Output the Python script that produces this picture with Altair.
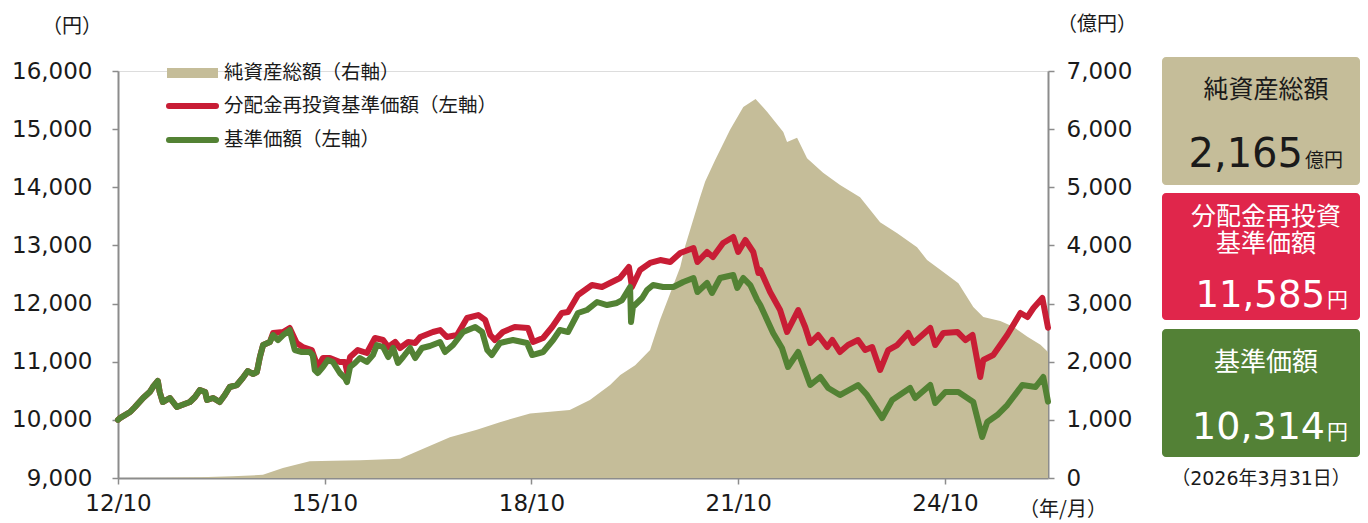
import altair as alt
import pandas as pd

# ---------------- data ----------------
# 基準価額 (円)
nav_dates = [
    "2012-10-01", "2012-10-11", "2012-12-04", "2012-12-30", "2013-02-11", "2013-03-18",
    "2013-04-04", "2013-04-30", "2013-05-10", "2013-05-26", "2013-07-03", "2013-08-09",
    "2013-09-05", "2013-10-17", "2013-11-13", "2013-12-09", "2014-01-06", "2014-01-16",
    "2014-02-17", "2014-03-24", "2014-04-20", "2014-05-16", "2014-06-23", "2014-07-24",
    "2014-08-20", "2014-09-16", "2014-10-07", "2014-10-23", "2014-11-09", "2014-12-15",
    "2015-01-01", "2015-01-27", "2015-02-23", "2015-03-30", "2015-04-15", "2015-04-26",
    "2015-06-02", "2015-07-14", "2015-07-30", "2015-08-10", "2015-08-26", "2015-09-22",
    "2015-10-18", "2015-11-14", "2015-12-21", "2016-01-17", "2016-01-28", "2016-02-13",
    "2016-03-10", "2016-04-05", "2016-05-12", "2016-06-13", "2016-07-04", "2016-08-06",
    "2016-09-02", "2016-09-28", "2016-10-24", "2016-11-20", "2016-12-27", "2017-01-23",
    "2017-02-28", "2017-04-11", "2017-06-04", "2017-06-30", "2017-08-12", "2017-10-04",
    "2017-12-07", "2018-01-13", "2018-02-09", "2018-03-05", "2018-04-17", "2018-06-25",
    "2018-09-08", "2018-10-05", "2018-12-02", "2019-01-24", "2019-03-01", "2019-04-13",
    "2019-06-05", "2019-07-22", "2019-09-14", "2019-11-06", "2019-12-28", "2020-01-25",
    "2020-03-07", "2020-03-12", "2020-03-22", "2020-05-10", "2020-06-05", "2020-07-07",
    "2020-08-29", "2020-10-22", "2020-12-14", "2021-02-06", "2021-02-27", "2021-04-19",
    "2021-05-15", "2021-06-27", "2021-09-05", "2021-09-26", "2021-10-28", "2021-12-04",
    "2022-01-10", "2022-01-26", "2022-04-04", "2022-05-21", "2022-06-22", "2022-08-15",
    "2022-10-18", "2022-12-10", "2023-01-21", "2023-03-24", "2023-06-28", "2023-08-15",
    "2023-11-03", "2023-12-26", "2024-03-30", "2024-04-26", "2024-07-15", "2024-08-10",
    "2024-10-03", "2024-12-11", "2025-02-28", "2025-04-16", "2025-05-13", "2025-07-05",
    "2025-08-27", "2025-11-15", "2026-01-24", "2026-03-06", "2026-03-31",
]
nav_values = [
    10000, 10030, 10135, 10221, 10376, 10479,
    10565, 10668, 10479, 10307, 10376, 10221,
    10255, 10307, 10393, 10513, 10479, 10341,
    10376, 10307, 10427, 10565, 10599, 10720,
    10840, 10788, 10823, 11081, 11287, 11339,
    11459, 11373, 11459, 11545, 11339, 11201,
    11167, 11167, 11115, 10857, 10806, 10909,
    11029, 10995, 10806, 10720, 10651, 10909,
    10978, 11064, 10995, 11115, 11287, 11253,
    11081, 11236, 10978, 11081, 11236, 11064,
    11236, 11270, 11339, 11167, 11287, 11511,
    11597, 11511, 11201, 11115, 11322, 11373,
    11322, 11115, 11167, 11373, 11545, 11511,
    11838, 11889, 12027, 11975, 12010, 12061,
    12285, 11683, 11941, 12096, 12233, 12319,
    12285, 12285, 12371, 12440, 12199, 12354,
    12182, 12440, 12491, 12268, 12440, 12319,
    12061, 11975, 11494, 11236, 10909, 11167,
    10599, 10737, 10548, 10427, 10599, 10427,
    10032, 10341, 10548, 10376, 10599, 10290,
    10479, 10479, 10307, 9705, 9963, 10083,
    10255, 10599, 10565, 10737, 10314,
]

# 分配金再投資基準価額 (円)
reinv_dates = [
    "2012-10-01", "2012-10-11", "2012-12-04", "2012-12-30", "2013-02-11", "2013-03-18",
    "2013-04-04", "2013-04-30", "2013-05-10", "2013-05-26", "2013-07-03", "2013-08-09",
    "2013-09-05", "2013-10-17", "2013-11-13", "2013-12-09", "2014-01-06", "2014-01-16",
    "2014-02-17", "2014-03-24", "2014-04-20", "2014-05-16", "2014-06-23", "2014-07-24",
    "2014-08-20", "2014-09-16", "2014-10-07", "2014-10-23", "2014-11-09", "2014-12-15",
    "2015-01-01", "2015-02-23", "2015-03-30", "2015-05-06", "2015-06-07", "2015-07-25",
    "2015-08-26", "2015-09-22", "2015-10-29", "2015-12-21", "2016-01-17", "2016-01-28",
    "2016-02-13", "2016-03-25", "2016-05-12", "2016-06-24", "2016-08-06", "2016-09-02",
    "2016-10-09", "2016-11-04", "2016-12-17", "2017-01-23", "2017-02-19", "2017-04-27",
    "2017-06-04", "2017-07-10", "2017-09-02", "2017-10-25", "2017-12-23", "2018-01-29",
    "2018-02-25", "2018-03-21", "2018-05-03", "2018-07-05", "2018-09-13", "2018-10-10",
    "2018-12-02", "2019-01-19", "2019-03-11", "2019-04-13", "2019-06-05", "2019-08-18",
    "2019-10-10", "2019-12-02", "2020-01-14", "2020-03-01", "2020-03-17", "2020-04-29",
    "2020-06-21", "2020-08-14", "2020-10-06", "2020-11-28", "2021-02-06", "2021-02-27",
    "2021-04-19", "2021-05-20", "2021-07-13", "2021-09-05", "2021-10-01", "2021-11-08",
    "2021-12-20", "2022-01-16", "2022-01-26", "2022-03-19", "2022-05-11", "2022-06-17",
    "2022-08-15", "2022-09-21", "2022-10-18", "2022-11-29", "2023-01-16", "2023-02-12",
    "2023-03-24", "2023-05-06", "2023-06-28", "2023-08-05", "2023-09-11", "2023-10-23",
    "2023-12-05", "2024-01-22", "2024-03-20", "2024-04-16", "2024-06-03", "2024-07-15",
    "2024-08-10", "2024-09-22", "2024-12-06", "2025-01-18", "2025-02-24", "2025-04-06",
    "2025-04-22", "2025-06-14", "2025-08-27", "2025-11-05", "2025-12-12", "2026-01-13",
    "2026-03-01", "2026-03-31",
]
reinv_values = [
    10000, 10030, 10135, 10221, 10376, 10479,
    10565, 10668, 10479, 10307, 10376, 10221,
    10255, 10307, 10393, 10513, 10479, 10341,
    10376, 10307, 10427, 10565, 10599, 10720,
    10840, 10788, 10823, 11081, 11287, 11339,
    11494, 11511, 11580, 11322, 11253, 11201,
    10909, 11064, 11064, 10995, 10995, 10823,
    11081, 11201, 11150, 11408, 11373, 11253,
    11339, 11236, 11339, 11322, 11425, 11511,
    11545, 11425, 11459, 11752, 11803, 11717,
    11459, 11373, 11511, 11597, 11580, 11339,
    11408, 11597, 11838, 11855, 12147, 12319,
    12285, 12371, 12440, 12629, 12285, 12577,
    12698, 12749, 12715, 12870, 12956, 12715,
    12887, 12801, 13042, 13145, 12887, 13093,
    12887, 12526, 12577, 12199, 11889, 11511,
    11889, 11597, 11322, 11459, 11253, 11373,
    11167, 11287, 11373, 11201, 11253, 10857,
    11201, 11287, 11494, 11322, 11459, 11580,
    11287, 11494, 11511, 11373, 11459, 10737,
    11029, 11115, 11459, 11838, 11769, 11924,
    12096, 11585,
]

# 純資産総額 (億円)
aum_dates = [
    "2012-10-01", "2013-06-01", "2013-12-09", "2014-06-01", "2014-11-08", "2015-02-22",
    "2015-07-14", "2015-11-15", "2016-04-06", "2016-11-04", "2017-02-19", "2017-07-26",
    "2017-12-16", "2018-04-17", "2018-09-24", "2019-01-08", "2019-04-22", "2019-08-07",
    "2019-11-22", "2020-01-15", "2020-04-03", "2020-06-21", "2020-08-13", "2020-11-28",
    "2020-12-25", "2021-03-12", "2021-04-09", "2021-06-01", "2021-08-19", "2021-10-28",
    "2022-01-01", "2022-03-03", "2022-05-28", "2022-06-17", "2022-08-09", "2022-10-01",
    "2022-12-25", "2023-03-25", "2023-07-09", "2023-10-23", "2024-01-22", "2024-05-06",
    "2024-06-28", "2024-09-06", "2024-12-11", "2025-02-28", "2025-04-22", "2025-07-21",
    "2025-09-28", "2025-12-12", "2026-02-19", "2026-03-31",
]
aum_values = [
    0, 5, 15, 30, 55, 170,
    290, 295, 305, 330, 480, 700,
    830, 960, 1110, 1140, 1170, 1340,
    1600, 1770, 1940, 2200, 2720, 3630,
    4000, 4820, 5100, 5470, 5990, 6380,
    6520, 6300, 5950, 5780, 5850, 5500,
    5250, 5040, 4830, 4400, 4210, 3970,
    3750, 3580, 3350, 2940, 2770, 2700,
    2600, 2430, 2290, 2165,
]

x_tick_years = [2012, 2015, 2018, 2021, 2024]
left_ticks = [9000, 10000, 11000, 12000, 13000, 14000, 15000, 16000]
right_ticks = [0, 1000, 2000, 3000, 4000, 5000, 6000, 7000]

legend_labels = ["純資産総額（右軸）", "分配金再投資基準価額（左軸）", "基準価額（左軸）"]
latest_aum = "2,165"
latest_reinv = "11,585"
latest_nav = "10,314"
as_of = "（2026年3月31日）"

# ---------------- styles ----------------
TAN = "#c5bd99"
RED_LINE = "#c81d35"
GREEN_LINE = "#538234"
RED_BOX = "#e0264b"
GREEN_BOX = "#538136"
AXIS_GRAY = "#8c8c8c"
TXT = "#1a1a1a"
FNUM = "DejaVu Sans"
FJP = "Noto Sans CJK JP"
FMIX = "DejaVu Sans, Noto Sans CJK JP"

W, H = 930, 407

nav_df = pd.DataFrame({"date": nav_dates, "v": nav_values})
reinv_df = pd.DataFrame({"date": reinv_dates, "v": reinv_values})
aum_df = pd.DataFrame({"date": aum_dates, "v": aum_values})
one = pd.DataFrame({"k": [0]})

xscale = alt.Scale(
    type="utc",
    domain=[alt.DateTime(year=2012, month=10, date=1, utc=True),
            alt.DateTime(year=2026, month=3, date=31, utc=True)],
)
xaxis = alt.Axis(
    values=[alt.DateTime(year=y, month=10, date=1, utc=True) for y in x_tick_years],
    labelExpr="utcFormat(datum.value, '%y/%m')",
    labelFont=FNUM, labelFontSize=23, labelColor=TXT, labelPadding=8,
    domainColor=AXIS_GRAY, domainWidth=2, tickColor=AXIS_GRAY, tickWidth=1.5, tickSize=6,
    grid=False, title=None, labelFlush=False,
)
X = alt.X("date:T", scale=xscale, axis=xaxis)

area = alt.Chart(aum_df).mark_area(color=TAN, opacity=1).encode(
    x=X,
    y=alt.Y("v:Q", scale=alt.Scale(domain=[0, 7000], nice=False, zero=True),
            axis=alt.Axis(orient="right", values=right_ticks, format=",.0f",
                          labelFont=FNUM, labelFontSize=23, labelColor=TXT, labelPadding=12,
                          domainColor=AXIS_GRAY, domainWidth=2, tickColor=AXIS_GRAY,
                          tickWidth=1.5, tickSize=6, grid=False, title=None)),
)

left_y = alt.Y("v:Q", scale=alt.Scale(domain=[9000, 16000], nice=False, zero=False),
               axis=alt.Axis(orient="left", values=left_ticks, format=",.0f",
                             labelFont=FNUM, labelFontSize=23, labelColor=TXT, labelPadding=20,
                             domainColor=AXIS_GRAY, domainWidth=2, tickColor=AXIS_GRAY,
                             tickWidth=1.5, tickSize=6, grid=False, title=None))

red = alt.Chart(reinv_df).mark_line(color=RED_LINE, strokeWidth=6, strokeJoin="round",
                                    strokeCap="round").encode(x=X, y=left_y)
green = alt.Chart(nav_df).mark_line(color=GREEN_LINE, strokeWidth=6, strokeJoin="round",
                                    strokeCap="round").encode(x=X, y=left_y)

lines = alt.layer(red, green)


def text(t, x, y, size, color=TXT, font=FJP, align="center", baseline="middle", weight="normal"):
    return alt.Chart(one).mark_text(text=t, font=font, fontSize=size, color=color,
                                    align=align, baseline=baseline, fontWeight=weight).encode(
        x=alt.value(x), y=alt.value(y))


def box(x1, x2, y1, y2, color):
    return alt.Chart(one).mark_rect(color=color, cornerRadius=4).encode(
        x=alt.value(x1), x2=alt.value(x2), y=alt.value(y1), y2=alt.value(y2))


def swatch(y, color, width, cap):
    return alt.Chart(one).mark_rule(color=color, strokeWidth=width, strokeCap=cap).encode(
        x=alt.value(51), x2=alt.value(98), y=alt.value(y))


annotations = [
    text("（円）", -46, -44, 20),
    text("（億円）", 979, -46, 20),
    text("（年/月）", 945, 439, 20),
    # legend
    alt.Chart(one).mark_rule(color=TAN, strokeWidth=10, strokeCap="butt").encode(
        x=alt.value(49), x2=alt.value(100), y=alt.value(2)),
    swatch(35, RED_LINE, 6, "round"),
    swatch(69, GREEN_LINE, 6, "round"),
    text(legend_labels[0], 106, 2, 19.5, align="left"),
    text(legend_labels[1], 106, 35, 19.5, align="left"),
    text(legend_labels[2], 106, 69, 19.5, align="left"),
    # side boxes
    box(1044, 1242, -14, 114, TAN),
    box(1044, 1242, 122, 249, RED_BOX),
    box(1044, 1242, 258, 386, GREEN_BOX),
    text("純資産総額", 1148, 19, 25),
    text(latest_aum, 1185, 96, 40, font=FNUM, align="right", baseline="alphabetic"),
    text("億円", 1187, 96, 19, align="left", baseline="alphabetic"),
    text("分配金再投資", 1148, 146, 25, color="white"),
    text("基準価額", 1148, 173, 25, color="white"),
    text(latest_reinv, 1207, 236, 37, color="white", font=FNUM, align="right", baseline="alphabetic"),
    text("円", 1209, 236, 21, color="white", align="left", baseline="alphabetic"),
    text("基準価額", 1148, 292, 26, color="white"),
    text(latest_nav, 1207, 368, 38, color="white", font=FNUM, align="right", baseline="alphabetic"),
    text("円", 1209, 368, 21, color="white", align="left", baseline="alphabetic"),
    text(as_of, 1143, 408, 19, font=FMIX),
]

chart = alt.layer(area, lines, *annotations).resolve_scale(y="independent").properties(
    width=W, height=H,
    padding={"left": 110, "top": 63, "right": 312, "bottom": 45},
    autosize=alt.AutoSizeParams(type="none"),
).configure_view(stroke=None).configure(background="white")

chart.save("out.html", embed_options={"renderer": "svg", "actions": False})
